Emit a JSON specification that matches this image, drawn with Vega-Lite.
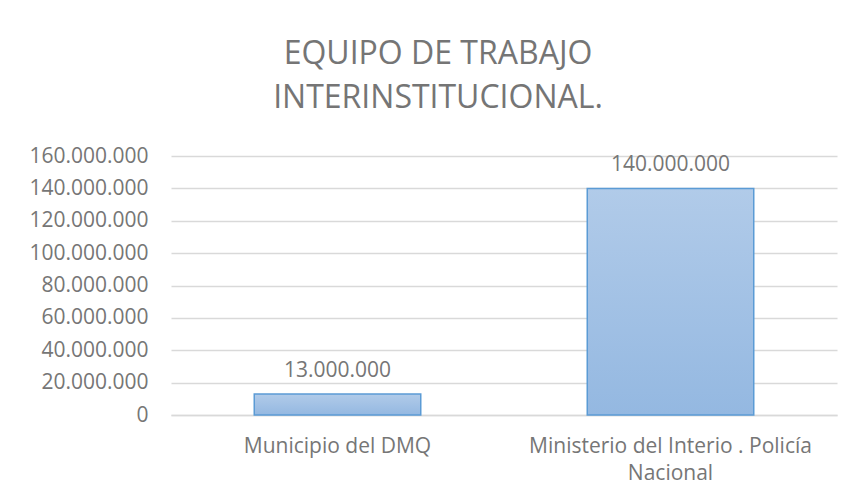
{
  "$schema": "https://vega.github.io/schema/vega-lite/v6.json",
  "autosize": {"type": "none"},
  "width": 666,
  "height": 259,
  "padding": {"left": 171, "top": 156, "right": 14, "bottom": 83},
  "background": "white",
  "title": {
    "text": ["EQUIPO DE TRABAJO", "INTERINSTITUCIONAL."],
    "font": "Open Sans",
    "fontSize": 32,
    "fontWeight": "normal",
    "color": "#757575",
    "anchor": "middle",
    "frame": "group",
    "dx": -66,
    "lineHeight": 44,
    "offset": 30
  },
  "data": {
    "values": [
      {"entidad": "Municipio del DMQ", "monto": 13000000},
      {"entidad": "Ministerio del Interio . Policía Nacional", "monto": 140000000}
    ]
  },
  "encoding": {
    "x": {
      "field": "entidad",
      "type": "nominal",
      "sort": null,
      "scale": {"paddingInner": 0.5, "paddingOuter": 0.25},
      "axis": {
        "title": null,
        "labelAngle": 0,
        "labelFont": "Open Sans",
        "labelFontSize": 21,
        "labelColor": "#767676",
        "labelPadding": 20,
        "labelLimit": 400,
        "labelLineHeight": 27,
        "labelOverlap": false,
        "labelExpr": "datum.value == 'Ministerio del Interio . Policía Nacional' ? ['Ministerio del Interio . Policía', 'Nacional'] : datum.value",
        "ticks": false,
        "domain": true,
        "domainColor": "#d9d9d9",
        "domainWidth": 1.5,
        "grid": false
      }
    },
    "y": {
      "field": "monto",
      "type": "quantitative",
      "scale": {"domain": [0, 160000000], "nice": false},
      "axis": {
        "title": null,
        "values": [0, 20000000, 40000000, 60000000, 80000000, 100000000, 120000000, 140000000, 160000000],
        "format": ",.0f",
        "labelFont": "Open Sans",
        "labelFontSize": 21,
        "labelColor": "#767676",
        "labelPadding": 23,
        "labelOverlap": false,
        "ticks": false,
        "domain": false,
        "grid": true,
        "gridColor": "#d9d9d9",
        "gridWidth": 1.5
      }
    }
  },
  "layer": [
    {
      "mark": {
        "type": "bar",
        "stroke": "#5b9bd5",
        "strokeWidth": 1.5,
        "color": {
          "gradient": "linear",
          "x1": 0, "y1": 0, "x2": 0, "y2": 1,
          "stops": [
            {"offset": 0, "color": "#b1cbe9"},
            {"offset": 1, "color": "#94b8e1"}
          ]
        }
      }
    },
    {
      "mark": {
        "type": "text",
        "font": "Open Sans",
        "fontSize": 21,
        "color": "#767676",
        "baseline": "alphabetic",
        "dy": -17
      },
      "encoding": {
        "text": {"field": "monto", "type": "quantitative", "format": ",.0f"}
      }
    }
  ],
  "config": {
    "locale": {
      "number": {
        "decimal": ",",
        "thousands": ".",
        "grouping": [3],
        "currency": ["$", ""]
      }
    },
    "view": {"stroke": null}
  }
}
